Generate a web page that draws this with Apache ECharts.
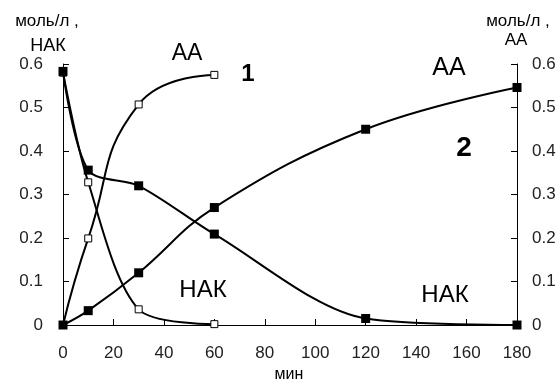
<!DOCTYPE html>
<html>
<head>
<meta charset="utf-8">
<script src="https://cdn.jsdelivr.net/npm/echarts@6/dist/echarts.min.js"></script>
<style>html,body{margin:0;padding:0;background:#fff;}#c{width:560px;height:385px;}</style>
</head>
<body>
<div id="c"></div>
<script>
var time1 = [0, 10, 30, 60];
var aa1 = [0, 0.199, 0.507, 0.575];
var nak1 = [0.58, 0.328, 0.036, 0.002];
var time2 = [0, 10, 30, 60, 120, 180];
var aa2 = [0, 0.033, 0.120, 0.270, 0.450, 0.546];
var nak2 = [0.583, 0.356, 0.320, 0.209, 0.015, 0];
var xTicks = [0, 20, 40, 60, 80, 100, 120, 140, 160, 180];
var yTicks = [0, 0.1, 0.2, 0.3, 0.4, 0.5, 0.6];

function pairs(xs, ys) { return xs.map(function (x, i) { return [x, ys[i]]; }); }
var FONT = "'Liberation Sans', Arial, sans-serif";
var chart = echarts.init(document.getElementById('c'));
function yAxis(pos) {
  return {
    type: 'value', position: pos, min: yTicks[0], max: yTicks[yTicks.length - 1], interval: 0.1,
    axisLine: { show: true, lineStyle: { color: '#000', width: 1 } },
    axisTick: { show: true, inside: true, length: 6, lineStyle: { color: '#000' } },
    splitLine: { show: false },
    axisLabel: { color: '#222', fontFamily: FONT, fontSize: 17, margin: pos === 'left' ? 20 : 15,
      formatter: function (v) { return v === 0 ? '0' : v.toFixed(1); } }
  };
}
function openSeries(data, sm) {
  return { type: 'line', data: data, smooth: sm, symbol: 'rect', symbolSize: 7,
    lineStyle: { color: '#000', width: 2 },
    itemStyle: { color: '#fff', borderColor: '#000', borderWidth: 1 }, z: 2 };
}
function filledSeries(data, sm) {
  return { type: 'line', data: data, smooth: sm, symbol: 'rect', symbolSize: 9,
    lineStyle: { color: '#000', width: 2 },
    itemStyle: { color: '#000' }, z: 3 };
}
function txt(x, y, s, size, bold) {
  return { type: 'text', x: x, y: y, style: { text: s, fill: '#000', font: (bold ? 'bold ' : '') + size + 'px ' + FONT, textAlign: 'center', textVerticalAlign: 'middle' } };
}
chart.setOption({
  animation: false,
  grid: { left: 63, right: 43, top: 64, bottom: 60 },
  xAxis: {
    type: 'value', min: xTicks[0], max: xTicks[xTicks.length - 1], interval: 20,
    axisLine: { show: true, lineStyle: { color: '#000', width: 1 } },
    axisTick: { show: true, inside: true, length: 6, lineStyle: { color: '#000' } },
    splitLine: { show: false },
    axisLabel: { color: '#222', fontFamily: FONT, fontSize: 17, margin: 20 }
  },
  yAxis: [yAxis('left'), yAxis('right')],
  series: [
    openSeries(pairs(time1, aa1), 0.5),
    openSeries(pairs(time1, nak1), 0.3),
    filledSeries(pairs(time2, aa2), 0.4),
    filledSeries(pairs(time2, nak2), 0.3)
  ],
  graphic: [
    txt(47, 21, 'моль/л ,', 17),
    txt(48, 46, 'НАК', 18),
    txt(518, 21, 'моль/л ,', 17),
    txt(516, 40, 'АА', 17),
    txt(187, 54, 'АА', 23),
    txt(248, 74, '1', 24, true),
    txt(449, 68, 'АА', 25),
    txt(464, 148, '2', 28, true),
    txt(203, 290, 'НАК', 24),
    txt(445, 295, 'НАК', 24),
    txt(289, 375, 'мин', 16)
  ]
});
</script>
</body>
</html>
